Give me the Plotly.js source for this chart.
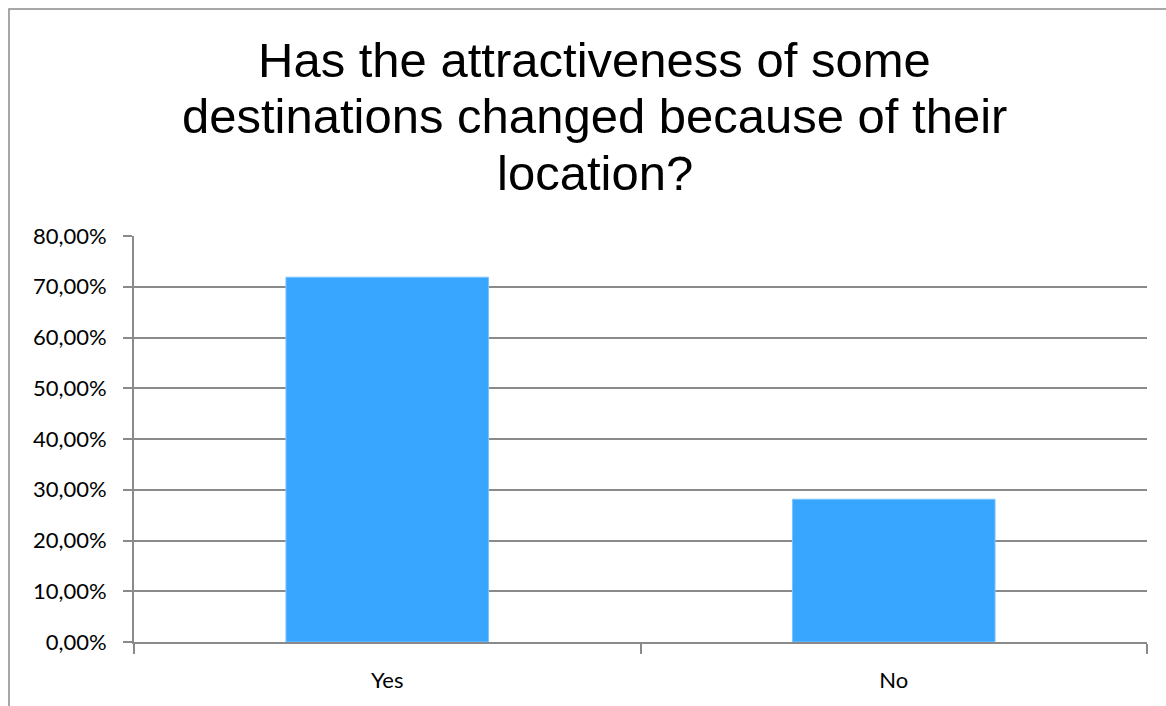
<!DOCTYPE html>
<html>
<head>
<meta charset="utf-8">
<script src="https://cdn.plot.ly/plotly-3.0.1.min.js"></script>
<style>html,body{margin:0;padding:0;background:#fff;}#chart{width:1166px;height:706px;}</style>
</head>
<body>
<div id="chart"></div>
<script>
var categories = ["Yes", "No"];
var shares = [0.7188, 0.2813];
var titleLines = ["Has the attractiveness of some", "destinations changed because of their", "location?"];

var trace = {
  type: "bar",
  x: categories,
  y: shares,
  marker: {color: "#38A6FF", line: {color: "#7CC4FF", width: 1}},
  hoverinfo: "x+y"
};

var titleY = [1.434, 1.296, 1.155];
var annotations = titleLines.map(function (t, i) {
  return {
    text: t, xref: "paper", yref: "paper", x: 0.455, y: titleY[i],
    xanchor: "center", yanchor: "middle", showarrow: false,
    font: {family: "Liberation Sans, Arial, sans-serif", size: 49, color: "#000"}
  };
});

var tickFont = {family: "Lato, 'Open Sans', sans-serif", size: 22, color: "#000"};

var layout = {
  width: 1166, height: 706,
  margin: {l: 134, r: 19, t: 236, b: 64, pad: 0},
  paper_bgcolor: "#fff", plot_bgcolor: "#fff",
  separators: ",.",
  showlegend: false,
  bargap: 0.6,
  font: tickFont,
  xaxis: {
    type: "category",
    tickson: "boundaries",
    ticks: "outside", ticklen: 10, tickwidth: 2, tickcolor: "#8a8a8a",
    showline: true, linecolor: "#8a8a8a", linewidth: 2,
    showgrid: false, zeroline: false,
    tickfont: tickFont,
    ticklabelstandoff: 18
  },
  yaxis: {
    range: [0, 0.8], dtick: 0.1, tick0: 0,
    tickformat: ".2%",
    ticks: "outside", ticklen: 9, tickwidth: 2, tickcolor: "#8a8a8a",
    showline: true, linecolor: "#8a8a8a", linewidth: 2,
    showgrid: true, gridcolor: "#8a8a8a", gridwidth: 2,
    zeroline: false,
    tickfont: tickFont,
    ticklabelstandoff: 12
  },
  annotations: annotations,
  shapes: [{
    type: "rect", xref: "paper", yref: "paper",
    x0: -0.1234, x1: 1.2, y0: -0.3, y1: 1.559,
    line: {color: "#8a8a8a", width: 1.5}, fillcolor: "rgba(0,0,0,0)", layer: "below"
  }]
};

Plotly.newPlot("chart", [trace], layout, {displayModeBar: false, staticPlot: true});
</script>
</body>
</html>
